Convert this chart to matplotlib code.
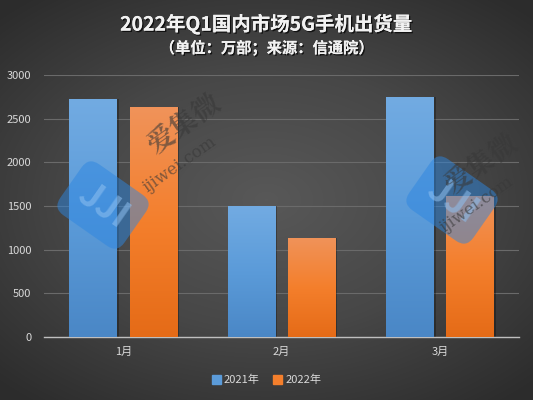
import matplotlib
matplotlib.use("Agg")
import matplotlib.pyplot as plt
import matplotlib.colors as mcolors
import matplotlib.patheffects as pe
from matplotlib.patches import Patch
import numpy as np

plt.rcParams["font.family"] = ["Noto Sans CJK SC", "DejaVu Sans"]

# ── Data ──
months = ["1月", "2月", "3月"]
series_names = ["2021年", "2022年"]
values_2021 = [2722, 1500, 2748]
values_2022 = [2630, 1134, 1615]

TITLE = "2022年Q1国内市场5G手机出货量"
SUBTITLE = "（单位：万部；来源：信通院）"

# ── Figure with radial gray background ──
fig = plt.figure(figsize=(5.33, 4.00), dpi=100)
bg = fig.add_axes([0, 0, 1, 1], zorder=-10)
yy, xx = np.mgrid[-1:1:400j, -1:1:533j]
r = np.sqrt((xx * 0.9) ** 2 + (yy * 1.0) ** 2)
bg_cmap = mcolors.LinearSegmentedColormap.from_list("bg", ["#585858", "#474747", "#2c2c2c"])
bg.imshow(r, cmap=bg_cmap, aspect="auto", extent=[0, 1, 0, 1], vmin=0, vmax=1.3)
bg.axis("off")

ax = fig.add_axes([0.0826, 0.1575, 0.8914, 0.655])
ax.set_facecolor("none")

x = np.arange(len(months))
w = 0.30
off = 0.19

blue_grad = mcolors.LinearSegmentedColormap.from_list("b", ["#4a87c6", "#5b9bd9", "#72abe2"])
orange_grad = mcolors.LinearSegmentedColormap.from_list("o", ["#e56b17", "#f47f2c", "#f0935a"])

grad = np.linspace(0, 1, 256).reshape(-1, 1)
for vals, dx, cm in [(values_2021, -off, blue_grad), (values_2022, off, orange_grad)]:
    # soft shadow
    ax.bar(x + dx + 0.012, vals, w, color="black", alpha=0.28, zorder=2)
    bars = ax.bar(x + dx, vals, w, color="none", zorder=3)
    for b in bars:
        x0, y0 = b.get_x(), b.get_y()
        im = ax.imshow(grad, cmap=cm, aspect="auto", origin="lower",
                       extent=[x0, x0 + b.get_width(), y0, y0 + b.get_height()], zorder=3)
        im.set_clip_path(b)

ax.set_xlim(-0.5, 2.5)
ax.set_ylim(0, 3000)
ax.set_yticks(np.arange(0, 3001, 500))
ax.yaxis.grid(True, color="#6a6a6a", linewidth=0.8)
ax.set_axisbelow(True)
ax.set_xticks(x)
ax.set_xticklabels(months)
ax.tick_params(axis="both", length=0, colors="#d9d9d9", labelsize=8)
ax.tick_params(axis="y", pad=9)
ax.tick_params(axis="x", pad=7)
for s in ["top", "right", "left"]:
    ax.spines[s].set_visible(False)
ax.spines["bottom"].set_color("#bfbfbf")
ax.spines["bottom"].set_linewidth(1.0)

# ── Watermarks ──
for (lx, ly), (tx, ty) in [((103, 205), (185, 125)), ((452, 200), (482, 165))]:
    fig.text(lx / 533, 1 - ly / 400, "JJI", fontsize=26, fontweight="bold", color="#8fc0f0",
             alpha=0.55, rotation=-35, ha="center", va="center",
             bbox=dict(boxstyle="round,pad=0.35", fc="#2d86e0", ec="none", alpha=0.5), zorder=5)
    fig.text(tx / 533, 1 - ty / 400, "爱集微", fontsize=20, fontweight="bold", color="#383838",
             alpha=0.6, rotation=35, ha="center", va="center", zorder=5,
             family=["Noto Serif CJK SC", "Noto Sans CJK SC"])
    fig.text((tx - 5) / 533, 1 - (ty + 40) / 400, "ijiwei.com", fontsize=12, color="#383838",
             alpha=0.6, rotation=35, ha="center", va="center", zorder=5, family="DejaVu Serif")

# ── Titles ──
shadow = [pe.withSimplePatchShadow(offset=(1, -1), shadow_rgbFace="black", alpha=0.7), pe.Normal()]
fig.text(0.5, 1 - 24 / 400, TITLE, ha="center", va="center", fontsize=14,
         fontweight="bold", color="#f2f2f2", path_effects=shadow)
fig.text(0.5, 1 - 48 / 400, SUBTITLE, ha="center", va="center", fontsize=11,
         fontweight="bold", color="#f2f2f2", path_effects=shadow)

# ── Legend ──
handles = [Patch(color="#5b9bd9", label=series_names[0]), Patch(color="#f47f2c", label=series_names[1])]
fig.legend(handles=handles, loc="center", bbox_to_anchor=(0.5, 1 - 380 / 400), ncol=2,
           frameon=False, fontsize=8, labelcolor="#d9d9d9", handlelength=0.8,
           handleheight=0.8, handletextpad=0.3, columnspacing=1.2)

fig.savefig("out.png", dpi=100)
